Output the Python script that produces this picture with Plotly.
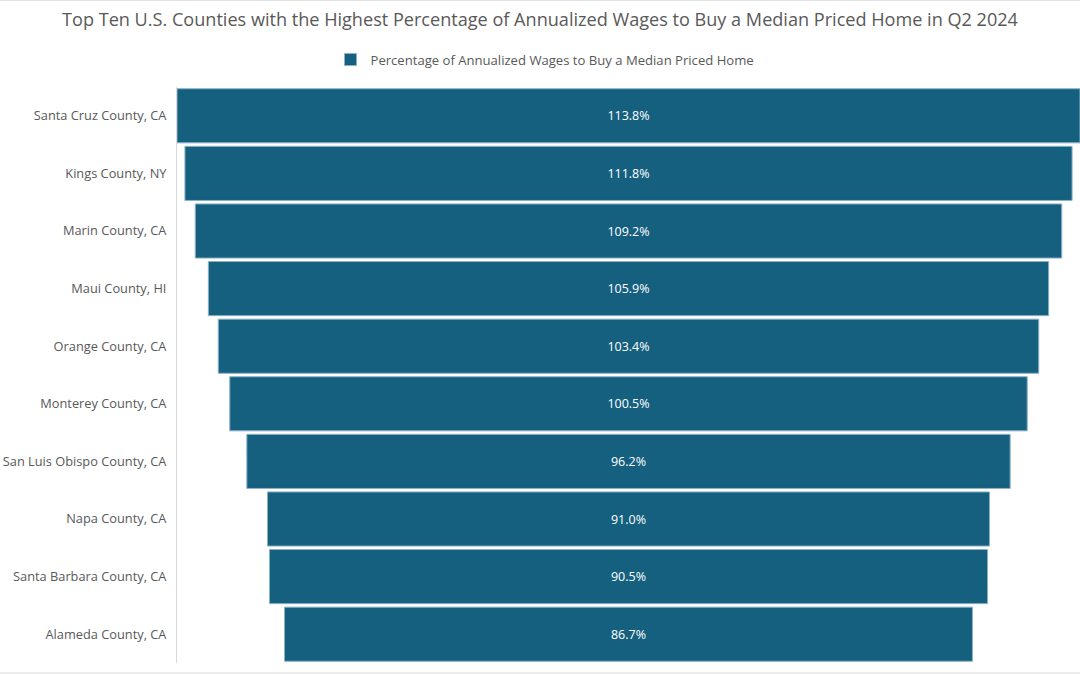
import plotly.graph_objects as go

counties = [
    "Santa Cruz County, CA",
    "Kings County, NY",
    "Marin County, CA",
    "Maui County, HI",
    "Orange County, CA",
    "Monterey County, CA",
    "San Luis Obispo County, CA",
    "Napa County, CA",
    "Santa Barbara County, CA",
    "Alameda County, CA",
]
pct_values = [113.8, 111.8, 109.2, 105.9, 103.4, 100.5, 96.2, 91.0, 90.5, 86.7]
series_name = "Percentage of Annualized Wages to Buy a Median Priced Home"
title_text = "Top Ten U.S. Counties with the Highest Percentage of Annualized Wages to Buy a Median Priced Home in Q2 2024"

FONT = "Open Sans"
BAR = "#16607F"

fig = go.Figure()
fig.add_trace(go.Funnel(
    y=counties,
    x=pct_values,
    name=series_name,
    showlegend=True,
    texttemplate="%{x:.1f}%",
    textposition="inside",
    insidetextanchor="middle",
    textfont=dict(family=FONT, size=12.5, color="white"),
    marker=dict(color=BAR, line=dict(color="#8DB2C6", width=1)),
    connector=dict(visible=False),
    hoverinfo="y+x",
))

W, H = 1080, 675
ml, mr, mt = 177, 0, 87
mb = H - 663
pw, ph = W - ml - mr, H - mt - mb

fig.update_layout(
    width=W, height=H,
    margin=dict(l=ml, r=mr, t=mt, b=mb, autoexpand=False),
    paper_bgcolor="white", plot_bgcolor="white",
    font=dict(family=FONT, color="#595959"),
    title=dict(text=title_text, x=540 / W, xanchor="center", xref="container",
               y=1 - 20 / H, yanchor="middle", yref="container",
               font=dict(family=FONT, size=18.1, color="#595959")),
    legend=dict(orientation="h", x=545 / W, xanchor="center", xref="container",
                y=1 - 60 / H, yanchor="middle", yref="container",
                font=dict(family=FONT, size=13.1, color="#595959")),
    funnelgap=0.06,
    xaxis=dict(visible=False, automargin=False,
               range=[-pct_values[0] / 2, pct_values[0] / 2]),
    yaxis=dict(showline=True, linecolor="#D9D9D9", linewidth=1, automargin=False,
               ticks="", ticklabelstandoff=7,
               tickfont=dict(family=FONT, size=12.8, color="#595959")),
    shapes=[
        dict(type="line", xref="paper", yref="paper",
             x0=-ml / pw, x1=1, y0=1 + (mt - 0.5) / ph, y1=1 + (mt - 0.5) / ph,
             line=dict(color="#E3E3E3", width=1)),
        dict(type="line", xref="paper", yref="paper",
             x0=-ml / pw, x1=1, y0=-(673 - 663) / ph, y1=-(673 - 663) / ph,
             line=dict(color="#D9D9D9", width=1)),
    ],
)

fig.write_html(
    "out.html",
    config={"displayModeBar": False},
    post_script="document.body.style.margin='0';document.body.style.overflow='hidden';",
)
